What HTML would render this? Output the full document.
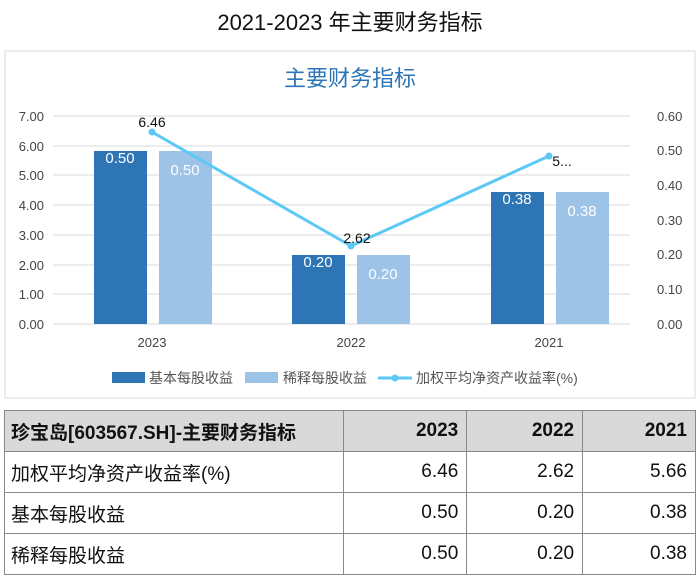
<!DOCTYPE html>
<html><head><meta charset="utf-8"><style>
body{margin:0;width:700px;height:576px;background:#fff;font-family:"Liberation Sans","Noto Sans CJK SC",sans-serif;position:relative;overflow:hidden}
.t{position:absolute;left:0;width:700px;text-align:center;top:5px;font-size:22px;color:#111}
table{position:absolute;left:4px;top:410px;width:692px;border-collapse:collapse;font-size:19px;color:#111}
td{border:1px solid #888;height:40px;padding:0 8px;text-align:right}
td:first-child{text-align:left;padding-left:6px}
tr.h td{background:#d9d9d9;font-weight:bold}
</style></head><body>
<div class="t">2021-2023 年主要财务指标</div>
<svg width="700" height="410" style="position:absolute;left:0;top:0" font-family="Liberation Sans, Noto Sans CJK SC, sans-serif">
<rect x="5" y="51" width="690" height="347" fill="#fff" stroke="#d9d9d9"/>
<text x="350" y="86" text-anchor="middle" font-size="22" fill="#2e75b6">主要财务指标</text>
<g stroke="#d9d9d9" stroke-width="1">
<line x1="53" x2="630" y1="116" y2="116"/><line x1="53" x2="630" y1="146" y2="146"/><line x1="53" x2="630" y1="175" y2="175"/><line x1="53" x2="630" y1="205" y2="205"/><line x1="53" x2="630" y1="235" y2="235"/><line x1="53" x2="630" y1="265" y2="265"/><line x1="53" x2="630" y1="294" y2="294"/><line x1="53" x2="630" y1="324" y2="324"/>
</g>
<g font-size="13" fill="#444" text-anchor="end">
<text x="44" y="121">7.00</text><text x="44" y="151">6.00</text><text x="44" y="180">5.00</text><text x="44" y="210">4.00</text><text x="44" y="240">3.00</text><text x="44" y="270">2.00</text><text x="44" y="299">1.00</text><text x="44" y="329">0.00</text>
</g>
<g font-size="13" fill="#444">
<text x="657" y="121">0.60</text><text x="657" y="155">0.50</text><text x="657" y="190">0.40</text><text x="657" y="225">0.30</text><text x="657" y="259">0.20</text><text x="657" y="294">0.10</text><text x="657" y="329">0.00</text>
</g>
<g fill="#2e75b6"><rect x="94" y="151" width="53" height="173"/><rect x="292" y="255" width="53" height="69"/><rect x="491" y="192" width="53" height="132"/></g>
<g fill="#9dc3e6"><rect x="159" y="151" width="53" height="173"/><rect x="357" y="255" width="53" height="69"/><rect x="556" y="192" width="53" height="132"/></g>
<g font-size="15" fill="#fff" text-anchor="middle">
<text x="120" y="163">0.50</text><text x="185" y="175">0.50</text>
<text x="318" y="267">0.20</text><text x="383" y="279">0.20</text>
<text x="517" y="204">0.38</text><text x="582" y="216">0.38</text>
</g>
<polyline points="152,132 351,246 549,156" fill="none" stroke="#5bc8f5" stroke-width="3"/>
<g fill="#5bc8f5"><circle cx="152" cy="132" r="3.5"/><circle cx="351" cy="246" r="3.5"/><circle cx="549" cy="156" r="3.5"/></g>
<g font-size="14" fill="#111" text-anchor="middle">
<text x="152" y="127">6.46</text><text x="357" y="243">2.62</text><text x="562" y="166">5...</text>
</g>
<g font-size="13" fill="#444" text-anchor="middle">
<text x="152" y="347">2023</text><text x="351" y="347">2022</text><text x="549" y="347">2021</text>
</g>
<rect x="112" y="372" width="33" height="11" fill="#2e75b6"/>
<text x="149" y="383" font-size="14" fill="#555">基本每股收益</text>
<rect x="245" y="372" width="33" height="11" fill="#9dc3e6"/>
<text x="283" y="383" font-size="14" fill="#555">稀释每股收益</text>
<line x1="378" x2="412" y1="378" y2="378" stroke="#5bc8f5" stroke-width="3"/><circle cx="395" cy="378" r="3.5" fill="#5bc8f5"/>
<text x="416" y="383" font-size="14" fill="#555">加权平均净资产收益率(%)</text>
</svg>
<table>
<colgroup><col style="width:340px"><col style="width:123px"><col style="width:116px"><col style="width:113px"></colgroup>
<tr class="h"><td>珍宝岛[603567.SH]-主要财务指标</td><td>2023</td><td>2022</td><td>2021</td></tr>
<tr><td>加权平均净资产收益率(%)</td><td>6.46</td><td>2.62</td><td>5.66</td></tr>
<tr><td>基本每股收益</td><td>0.50</td><td>0.20</td><td>0.38</td></tr>
<tr><td>稀释每股收益</td><td>0.50</td><td>0.20</td><td>0.38</td></tr>
</table>
</body></html>
